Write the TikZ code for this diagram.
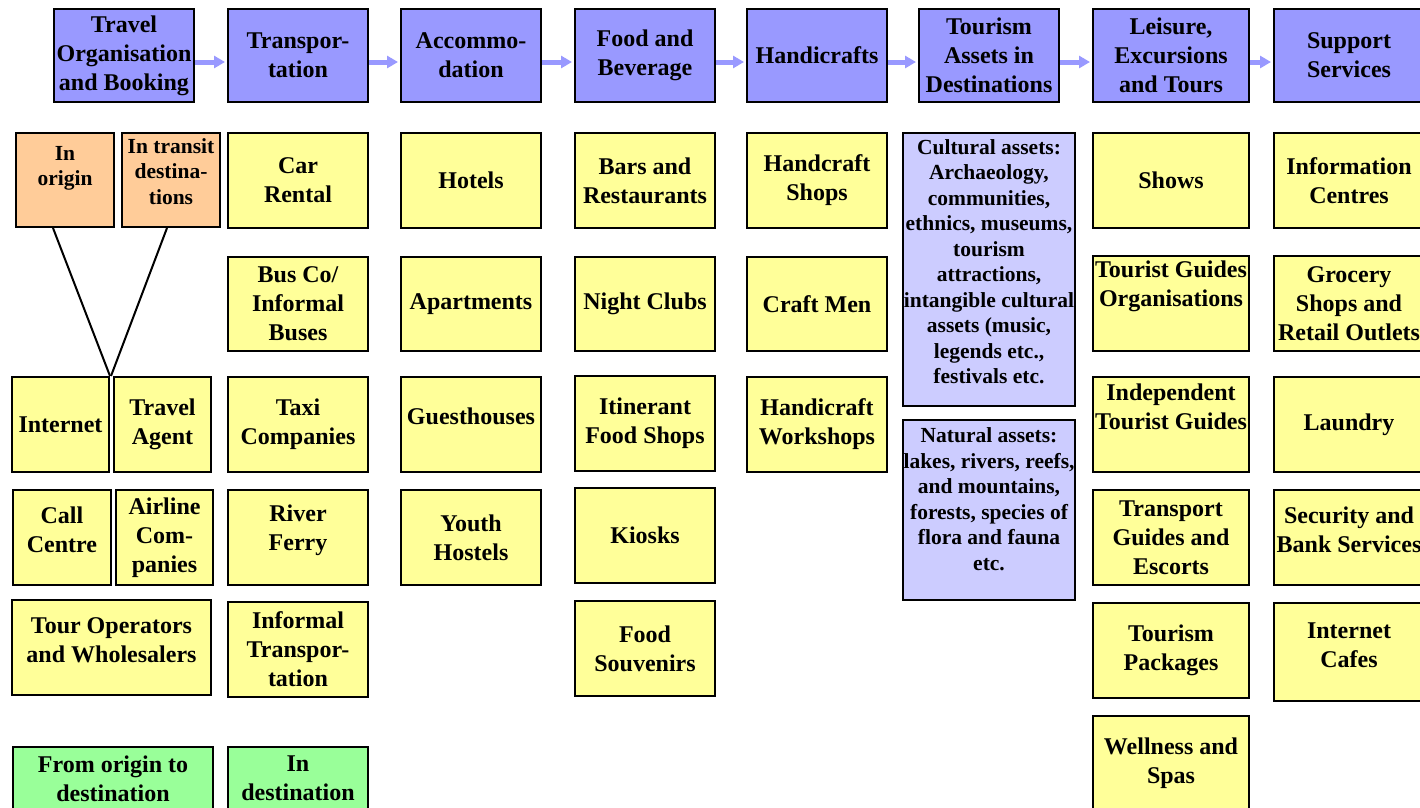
\documentclass[tikz,border=0pt]{standalone}
\usepackage{fontspec}
\setmainfont{Liberation Serif}
\usetikzlibrary{arrows.meta}
\definecolor{topblue}{HTML}{9999FF}
\definecolor{lyellow}{HTML}{FFFF99}
\definecolor{lorange}{HTML}{FFCC99}
\definecolor{lgreen}{HTML}{99FF99}
\definecolor{lavender}{HTML}{CCCCFF}
\newcommand\updepth[1]{\rule[-#1pt]{0pt}{0pt}}
\begin{document}
\begin{tikzpicture}[x=1pt,y=-1pt,
  box/.style={draw=black, line width=2pt, inner sep=0pt, align=center,
    font=\bfseries\fontsize{24}{29}\selectfont},
  smallfont/.style={font=\bfseries\fontsize{21.5}{25.5}\selectfont},
  topbox/.style={box, fill=topblue, minimum height=93pt},
  ybox/.style={box, fill=lyellow, minimum height=95pt},
  obox/.style={box, fill=lorange, minimum height=94pt, minimum width=98pt, smallfont},
  gbox/.style={box, fill=lgreen, minimum height=63pt},
  abox/.style={box, fill=lavender, minimum width=172pt, smallfont, line width=1.6pt},
  wA/.style={minimum width=140pt},
  wB/.style={minimum width=156pt},
  wC/.style={minimum width=150pt},
  wS/.style={minimum width=97pt},
  flow/.style={draw=topblue, line width=5pt, -{Triangle[length=11pt,width=12pt]}, shorten >=2pt},
  vline/.style={draw=black, line width=2pt}
]
\useasboundingbox (0,0) rectangle (1420,807);
\fill[white] (0,0) rectangle (1420,807);
\clip (0,0) rectangle (1420,807);

% top row
\node[topbox, wA] (t1) at (124,55.5) {Travel\\Organisation\\and Booking};
\node[topbox, wA] (t2) at (298,55.5) {Transpor-\\tation};
\node[topbox, wA] (t3) at (471,55.5) {Accommo-\\dation};
\node[topbox, wA] (t4) at (645,55.5) {Food and\\Beverage};
\node[topbox, wA] (t5) at (817,55.5) {Handicrafts};
\node[topbox, wA] (t6) at (989,55.5) {Tourism\\Assets in\\Destinations};
\node[topbox, wB] (t7) at (1171,55.5) {Leisure,\\Excursions\\and Tours};
\node[topbox, wC] (t8) at (1349,55.5) {Support\\Services};

\foreach \a/\b in {t1/t2,t2/t3,t3/t4,t4/t5,t5/t6,t6/t7,t7/t8}
  \draw[flow] ([yshift=-6.5pt]\a.east) -- ([yshift=-6.5pt]\b.west);

% column 1
\node[obox] (inorigin) at (65,180) {In\\origin\updepth{28}};
\node[obox] (intransit) at (171,180) {In transit\\destina-\\tions\updepth{17}};
\node[ybox, wS] (internet) at (60.5,424.5) {Internet};
\node[ybox, wS] (travelagent) at (162.5,424.5) {Travel\\Agent};
\node[ybox, minimum width=98pt] (callcentre) at (62,537.5) {Call\\Centre\updepth{15}};
\node[ybox, wS] (airline) at (164.5,537.5) {Airline\\Com-\\panies};
\node[ybox, minimum width=199pt] (tourop) at (111.5,647.5) {Tour Operators\\and Wholesalers\updepth{14}};
\node[gbox, minimum width=200pt] (fromorigin) at (113,778.5) {From origin to\\destination};
\draw[vline] ([xshift=-12pt]inorigin.south) -- (internet.north east);
\draw[vline] ([xshift=-4pt]intransit.south) -- ([xshift=-2pt]travelagent.north west);

% column 2
\node[ybox, wA] (car) at (298,180.5) {Car\\Rental};
\node[ybox, wA, minimum height=94pt] (bus) at (298,304) {Bus Co/\\Informal\\Buses};
\node[ybox, wA] (taxi) at (298,424.5) {Taxi\\Companies};
\node[ybox, wA] (ferry) at (298,537.5) {River\\Ferry\updepth{19}};
\node[ybox, wA] (informal) at (298,649.5) {Informal\\Transpor-\\tation};
\node[gbox, wA] (indest) at (298,778.5) {In\\destination};

% column 3
\node[ybox, wA] (hotels) at (471,180.5) {Hotels};
\node[ybox, wA, minimum height=94pt] (apartments) at (471,304) {Apartments};
\node[ybox, wA] (guesthouses) at (471,424.5) {Guesthouses\updepth{16}};
\node[ybox, wA] (youth) at (471,537.5) {Youth\\Hostels};

% column 4
\node[ybox, wA] (bars) at (645,180.5) {Bars and\\Restaurants};
\node[ybox, wA, minimum height=94pt] (night) at (645,304) {Night Clubs};
\node[ybox, wA] (itinerant) at (645,423.5) {Itinerant\\Food Shops};
\node[ybox, wA] (kiosks) at (645,535.5) {Kiosks};
\node[ybox, wA] (souvenirs) at (645,648.5) {Food\\Souvenirs};

% column 5
\node[ybox, wA] (hshops) at (817,180.5) {Handcraft\\Shops};
\node[ybox, wA, minimum height=94pt] (craftmen) at (817,304) {Craft Men};
\node[ybox, wA] (workshops) at (817,424.5) {Handicraft\\Workshops};

% column 6
\node[abox, minimum height=273pt] (cultural) at (989,269.5) {Cultural assets:\\Archaeology,\\communities,\\ethnics, museums,\\tourism\\attractions,\\intangible cultural\\assets (music,\\legends etc.,\\festivals etc.\updepth{16}};
\node[abox, minimum height=180pt] (natural) at (989,510) {Natural assets:\\lakes, rivers, reefs,\\and mountains,\\forests, species of\\flora and fauna\\etc.\updepth{22}};

% column 7
\node[ybox, wB] (shows) at (1171,180.5) {Shows};
\node[ybox, wB] (tgo) at (1171,303.5) {Tourist Guides\\Organisations\updepth{39}};
\node[ybox, wB] (indep) at (1171,424.5) {Independent\\Tourist Guides\updepth{35}};
\node[ybox, wB] (tguides) at (1171,537.5) {Transport\\Guides and\\Escorts};
\node[ybox, wB] (packages) at (1171,650.5) {Tourism\\Packages};
\node[ybox, wB] (wellness) at (1171,763.5) {Wellness and\\Spas};

% column 8
\node[ybox, wC] (info) at (1349,180.5) {Information\\Centres};
\node[ybox, wC] (grocery) at (1349,303.5) {Grocery\\Shops and\\Retail Outlets};
\node[ybox, wC] (laundry) at (1349,424.5) {Laundry};
\node[ybox, wC] (security) at (1349,537.5) {Security and\\Bank Services\updepth{15}};
\node[ybox, wC, minimum height=98pt] (cafes) at (1349,652) {Internet\\Cafes\updepth{13}};
\end{tikzpicture}
\end{document}
